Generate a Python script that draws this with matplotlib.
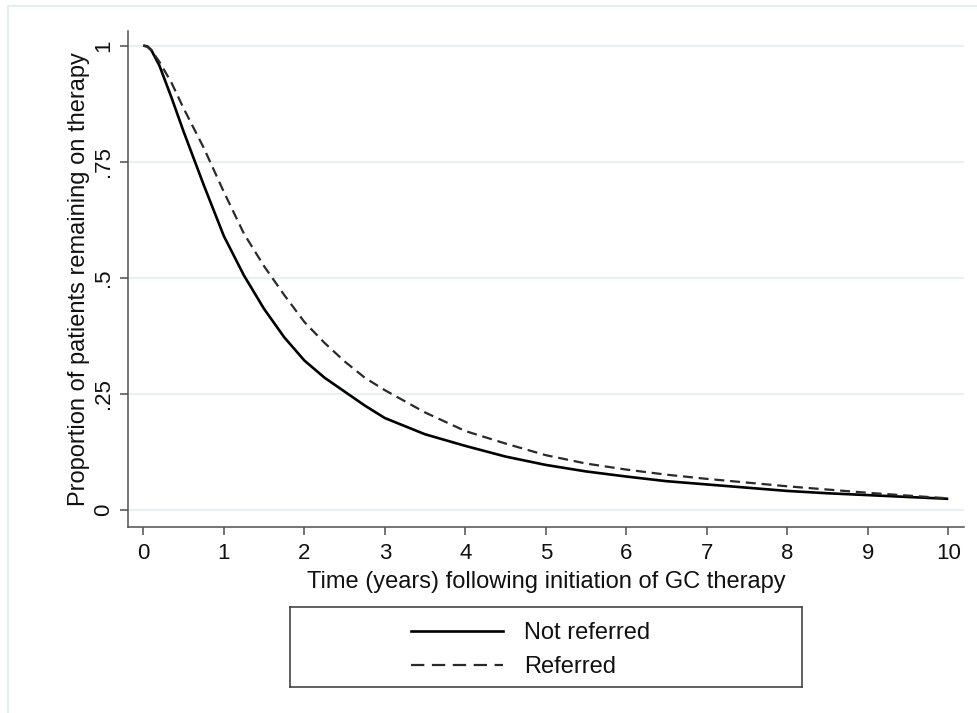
import numpy as np
import matplotlib
matplotlib.use("Agg")
import matplotlib.pyplot as plt
from matplotlib.lines import Line2D

plt.rcParams['font.family'] = ['Liberation Sans', 'DejaVu Sans']

# proportion remaining on GC therapy, read at these follow-up times (years)
years = [0, 0.05, 0.1, 0.2, 0.35, 0.5, 0.75, 1.0, 1.25, 1.5, 1.75, 2.0, 2.25,
         2.5, 2.75, 3.0, 3.5, 4.0, 4.5, 5.0, 5.5, 6.0, 6.5, 7.0, 7.5, 8.0,
         8.5, 9.0, 9.5, 10.0]
not_referred = [1.0, 0.998, 0.99, 0.957, 0.888, 0.815, 0.70, 0.59, 0.505, 0.433,
                0.372, 0.322, 0.285, 0.255, 0.225, 0.198, 0.163, 0.138, 0.115,
                0.097, 0.083, 0.072, 0.062, 0.055, 0.048, 0.041, 0.036, 0.032,
                0.028, 0.024]
referred = [1.0, 0.998, 0.99, 0.965, 0.92, 0.865, 0.78, 0.685, 0.595, 0.525,
            0.463, 0.405, 0.36, 0.32, 0.285, 0.258, 0.21, 0.17, 0.143, 0.118,
            0.10, 0.087, 0.076, 0.067, 0.059, 0.051, 0.044, 0.037, 0.031,
            0.025]

yticks = [0, 0.25, 0.5, 0.75, 1]
ytick_labels = ['0', '.25', '.5', '.75', '1']
xticks = list(range(11))

W, H = 978, 713
fig = plt.figure(figsize=(W/100, H/100), dpi=100)
fig.patch.set_facecolor('white')

# light outer graph-region border (partly off the page)
frame_col = '#e6eef0'
fig.add_artist(Line2D([8/W, 8/W], [0, 1 - 5.5/H], color=frame_col, lw=1.5))
fig.add_artist(Line2D([8/W, 1], [1 - 5.5/H, 1 - 5.5/H], color=frame_col, lw=1.5))

ax = fig.add_axes([127.7/W, 1 - 526.7/H, (964 - 127.7)/W, (526.7 - 30.7)/H])
ax.set_xlim(-0.194, 10.195)
ax.set_ylim(-0.036, 1.032)

spine_col = '#505050'
txt_col = '#111111'

for y in yticks:
    ax.axhline(y, color='#e8f0f2', lw=1.5, zorder=0)

ax.plot(years, not_referred, color='black', lw=1.9, label='Not referred',
        solid_capstyle='butt', solid_joinstyle='round')
ax.plot(years, referred, color='#2a2a2a', lw=1.6, dashes=(4.5, 2.6),
        label='Referred')

for side in ['top', 'right']:
    ax.spines[side].set_visible(False)
for side in ['left', 'bottom']:
    ax.spines[side].set_color(spine_col)
    ax.spines[side].set_linewidth(1.1)

ax.set_xticks(xticks)
ax.set_xticklabels([str(x) for x in xticks])
ax.set_yticks(yticks)
ax.set_yticklabels(ytick_labels, rotation=90, va='center')
ax.tick_params(axis='both', direction='out', length=6, width=1.1,
               color=spine_col, labelsize=16, labelcolor=txt_col)
ax.tick_params(axis='x', pad=6)
ax.tick_params(axis='y', pad=4)

ax.set_xlabel('Time (years) following initiation of GC therapy',
              fontsize=17, color=txt_col, labelpad=5)
ax.set_ylabel('Proportion of patients remaining on therapy',
              fontsize=17, color=txt_col, labelpad=2)

# legend box below the plot; legend keys get longer dashes than the curve
lax = fig.add_axes([290/W, 1 - 687/H, (802 - 290)/W, (687 - 607)/H])
lax.set_xticks([])
lax.set_yticks([])
for s in lax.spines.values():
    s.set_color('#444444')
    s.set_linewidth(1.2)
keys = [Line2D([], [], color='black', lw=1.9),
        Line2D([], [], color='#2a2a2a', lw=1.6, dashes=(6, 3.4))]
_, labels = ax.get_legend_handles_labels()
lax.legend(keys, labels, loc='center', bbox_to_anchor=(0.47, 0.46),
           frameon=False, fontsize=17, handlelength=3.9, handletextpad=0.9,
           labelspacing=0.5, labelcolor=txt_col)

fig.savefig('out.png', dpi=100)
